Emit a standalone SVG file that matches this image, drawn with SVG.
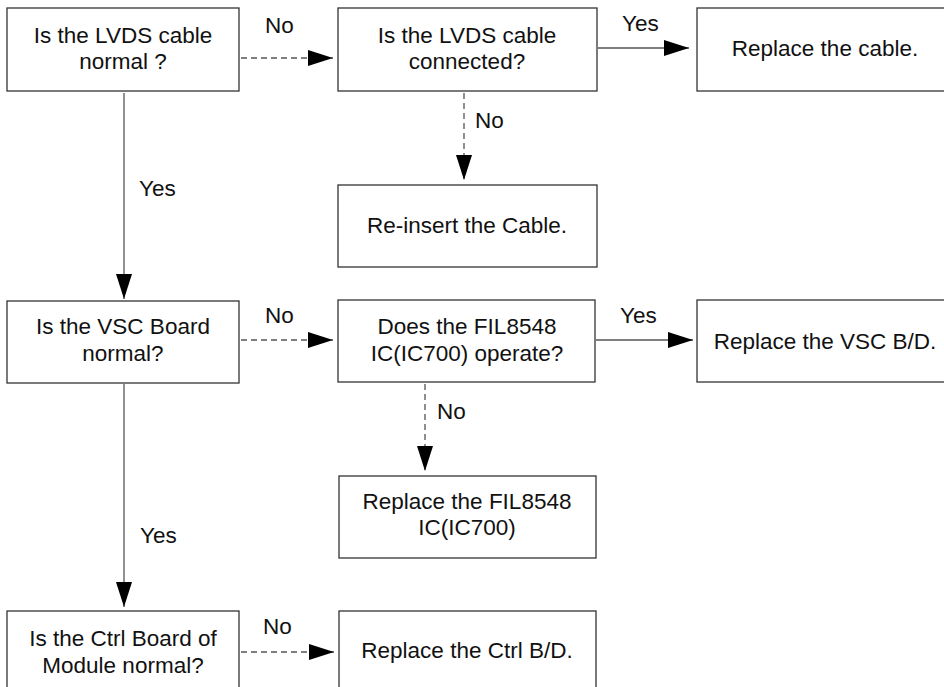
<svg xmlns="http://www.w3.org/2000/svg" width="944" height="687" viewBox="0 0 944 687">
  <style>
    .box { fill: #ffffff; stroke: #333333; stroke-width: 1.3; }
    .t { font-family: "Liberation Sans", Arial, sans-serif; font-size: 22.5px; fill: #111111; text-anchor: middle; }
    .lbl { font-family: "Liberation Sans", Arial, sans-serif; font-size: 22.5px; fill: #111111; }
    .solid { stroke: #555555; stroke-width: 1.3; fill: none; marker-end: url(#head); }
    .dash { stroke: #555555; stroke-width: 1.3; fill: none; stroke-dasharray: 6 4; marker-end: url(#head); }
  </style>
  <defs>
    <marker id="head" markerUnits="userSpaceOnUse" markerWidth="26" markerHeight="16" refX="25" refY="8" orient="auto">
      <path d="M0,0 L25,8 L0,16 Z" fill="#000000"/>
    </marker>
  </defs>

  <rect width="944" height="687" fill="#ffffff"/>

  <g id="connectors">
    <path class="dash" d="M241,58 H333"/>
    <path class="solid" d="M598,48 H689"/>
    <path class="dash" d="M464,93 V180"/>
    <path class="solid" d="M124,93 V299"/>
    <path class="dash" d="M241,340 H333"/>
    <path class="solid" d="M596,340 H693"/>
    <path class="dash" d="M425,384 V471"/>
    <path class="solid" d="M124,384 V607"/>
    <path class="dash" d="M241,652 H334"/>
    <text class="lbl" x="265" y="33">No</text>
    <text class="lbl" x="622" y="31">Yes</text>
    <text class="lbl" x="475" y="128">No</text>
    <text class="lbl" x="139" y="196">Yes</text>
    <text class="lbl" x="265" y="323">No</text>
    <text class="lbl" x="620" y="323">Yes</text>
    <text class="lbl" x="437" y="419">No</text>
    <text class="lbl" x="140" y="543">Yes</text>
    <text class="lbl" x="263" y="634">No</text>
  </g>

  <g id="n-lvds-normal">
    <rect class="box" x="7" y="8" width="232" height="83"/>
    <text class="t" x="123" y="43">Is the LVDS cable</text>
    <text class="t" x="123" y="69">normal ?</text>
  </g>
  <g id="n-lvds-connected">
    <rect class="box" x="338" y="8" width="259" height="83"/>
    <text class="t" x="467" y="43">Is the LVDS cable</text>
    <text class="t" x="467" y="69">connected?</text>
  </g>
  <g id="n-replace-cable">
    <rect class="box" x="697" y="8" width="260" height="83"/>
    <text class="t" x="825" y="56">Replace the cable.</text>
  </g>
  <g id="n-reinsert">
    <rect class="box" x="338" y="185" width="259" height="82"/>
    <text class="t" x="467" y="233">Re-insert the Cable.</text>
  </g>
  <g id="n-vsc-normal">
    <rect class="box" x="7" y="301" width="232" height="82"/>
    <text class="t" x="123" y="334">Is the VSC Board</text>
    <text class="t" x="123" y="361">normal?</text>
  </g>
  <g id="n-fil-operate">
    <rect class="box" x="338" y="300" width="257" height="82"/>
    <text class="t" x="467" y="334">Does the FIL8548</text>
    <text class="t" x="467" y="361">IC(IC700) operate?</text>
  </g>
  <g id="n-replace-vsc">
    <rect class="box" x="697" y="300" width="260" height="82"/>
    <text class="t" x="825" y="349">Replace the VSC B/D.</text>
  </g>
  <g id="n-replace-fil">
    <rect class="box" x="339" y="476" width="257" height="82"/>
    <text class="t" x="467" y="509">Replace the FIL8548</text>
    <text class="t" x="467" y="535">IC(IC700)</text>
  </g>
  <g id="n-ctrl-normal">
    <rect class="box" x="7" y="611" width="232" height="90"/>
    <text class="t" x="123" y="646">Is the Ctrl Board of</text>
    <text class="t" x="123" y="673">Module normal?</text>
  </g>
  <g id="n-replace-ctrl">
    <rect class="box" x="339" y="611" width="257" height="90"/>
    <text class="t" x="467" y="658">Replace the Ctrl B/D.</text>
  </g>
</svg>
